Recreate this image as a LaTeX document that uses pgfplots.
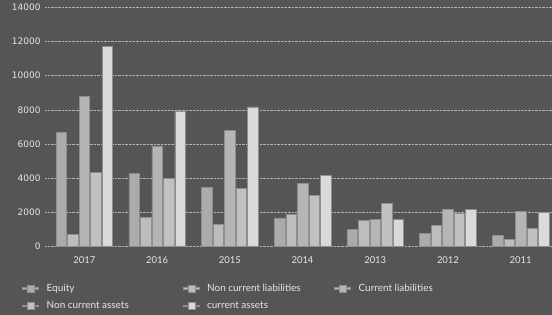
\documentclass[border=0pt]{standalone}
\usepackage{fontspec}
\setmainfont{Lato}
\newfontfamily\tickfont{DejaVu Sans}
\usepackage{pgfplots}
\usepackage{pgfplotstable}
\pgfplotsset{compat=1.18}
\definecolor{bg}{HTML}{555555}
\definecolor{cEq}{HTML}{ABABAB}
\definecolor{cNcl}{HTML}{BDBDBD}
\definecolor{cCl}{HTML}{B5B5B5}
\definecolor{cNca}{HTML}{C1C1C1}
\definecolor{cCa}{HTML}{DADADA}
\definecolor{edge}{HTML}{8E8E8E}
\definecolor{txt}{HTML}{E6E6E6}
\pgfplotstableread{
x eq ncl cl nca ca
0 6700 700 8800 4350 11700
1 4300 1700 5900 4000 7900
2 3470 1310 6820 3430 8170
3 1680 1870 3710 2980 4190
4 1020 1540 1580 2540 1580
5 780 1250 2190 1930 2200
6 670 430 2070 1080 2010
}\datatable
\begin{document}
\begin{tikzpicture}
\fill[bg] (0,0) rectangle (552bp,315bp);
\begin{axis}[
  at={(45bp,68.3bp)}, anchor=south west,
  scale only axis, width=507bp, height=239.4bp,
  ybar=1bp, bar width=10.5bp,
  xmin=-0.54, xmax=6.43, ymin=0, ymax=14000,
  xtick={0,...,6}, xticklabels={2017,2016,2015,2014,2013,2012,2011},
  ytick={0,2000,...,14000},
  scaled ticks=false,
  /pgf/number format/assume math mode=true,
  /pgf/number format/1000 sep={},
  ymajorgrids, grid style={densely dotted, color=white!70!black, line width=0.6pt},
  axis line style={draw=none}, major tick length=0,
  y tick label style={font=\tickfont\fontsize{9}{10}\selectfont, text=txt, xshift=-1bp},
  x tick label style={font=\fontsize{9.5}{10}\selectfont, text=txt, yshift=-6bp},
  legend columns=3,
  legend cell align=left,
  legend style={at={(axis description cs:0,0)}, anchor=north west, xshift=-23bp, yshift=-35bp,
    draw=none, fill=none, inner sep=0pt, row sep=5bp,
    font=\fontsize{10}{11}\selectfont, text=txt},
  legend image code/.code={\fill (0bp,-0.7bp) rectangle (16bp,0.7bp); \fill (5bp,-3.5bp) rectangle (12bp,3.5bp);},
  every axis plot/.append style={draw=edge, line width=0.5pt},
]
\addplot[fill=cEq] table[x=x,y=eq] {\datatable};
\addlegendentry{\hspace*{6bp}\makebox[134bp][l]{Equity}}
\addplot[fill=cNcl] table[x=x,y=ncl] {\datatable};
\addlegendentry{\hspace*{6bp}\makebox[125bp][l]{Non current liabilities}}
\addplot[fill=cCl] table[x=x,y=cl] {\datatable};
\addlegendentry{\hspace*{6bp}Current liabilities}
\addplot[fill=cNca] table[x=x,y=nca] {\datatable};
\addlegendentry{\hspace*{6bp}\makebox[134bp][l]{Non current assets}}
\addplot[fill=cCa] table[x=x,y=ca] {\datatable};
\addlegendentry{\hspace*{6bp}current assets}
\end{axis}
\pgfresetboundingbox
\path (0,0) rectangle (552bp,315bp);
\end{tikzpicture}
\end{document}
